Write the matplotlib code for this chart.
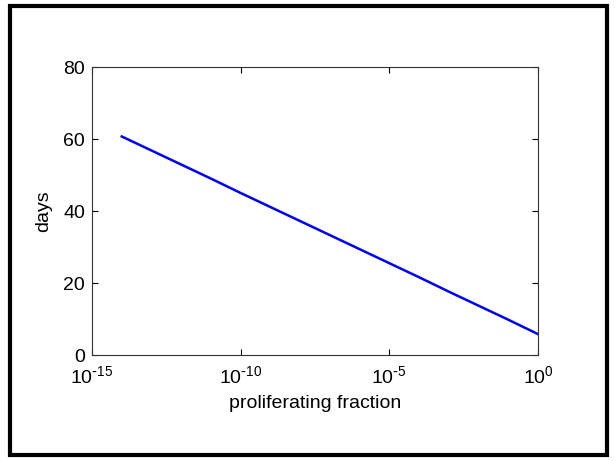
import matplotlib.pyplot as plt
import matplotlib.patches as patches
import numpy as np

plt.rcParams['font.family'] = ['Liberation Sans', 'DejaVu Sans']
plt.rcParams['mathtext.default'] = 'regular'

# log10 of the proliferating fraction and the matching time in days
log_fraction = [-14, -13, -12, -11, -10, -9, -8, -7, -6, -5, -4, -3, -2, -1, 0]
days = [60.7, 56.8, 52.9, 49.0, 45.0, 41.1, 37.2, 33.3, 29.4, 25.5, 21.6, 17.6, 13.7, 9.8, 5.8]

x_ticks = [1e-15, 1e-10, 1e-5, 1e0]
x_tick_labels = ['$10^{\\text{-}15}$', '$10^{\\text{-}10}$', '$10^{\\text{-}5}$', '$10^{0}$']
y_ticks = [0, 20, 40, 60, 80]

W, H = 616, 461
fig = plt.figure(figsize=(W / 100, H / 100), dpi=100)
ax = fig.add_axes([92 / W, 1 - 355 / H, (538 - 92) / W, (355 - 67) / H])

fraction = np.power(10.0, log_fraction)
ax.plot(fraction, days, color='#0000ff', linewidth=1.8)

ax.set_xscale('log')
ax.set_xlim(1e-15, 1)
ax.set_ylim(0, 80)
ax.set_xticks(x_ticks)
ax.set_xticklabels(x_tick_labels)
ax.xaxis.set_minor_locator(plt.NullLocator())
ax.set_yticks(y_ticks)
ax.tick_params(direction='in', top=True, right=True, labelsize=14, length=4, width=0.8)
ax.tick_params(axis='x', pad=7)
ax.tick_params(axis='y', pad=5)
ax.set_xlabel('proliferating fraction', fontsize=14, labelpad=6)
ax.set_ylabel('days', fontsize=14, labelpad=8)
for spine in ax.spines.values():
    spine.set_color('#333333')

# thick frame around the whole figure
fig.patches.append(patches.Rectangle((10 / W, 1 - 455 / H), 597 / W, 449 / H,
                                     transform=fig.transFigure, fill=False,
                                     edgecolor='black', linewidth=3))

fig.savefig('out.png', dpi=100)
